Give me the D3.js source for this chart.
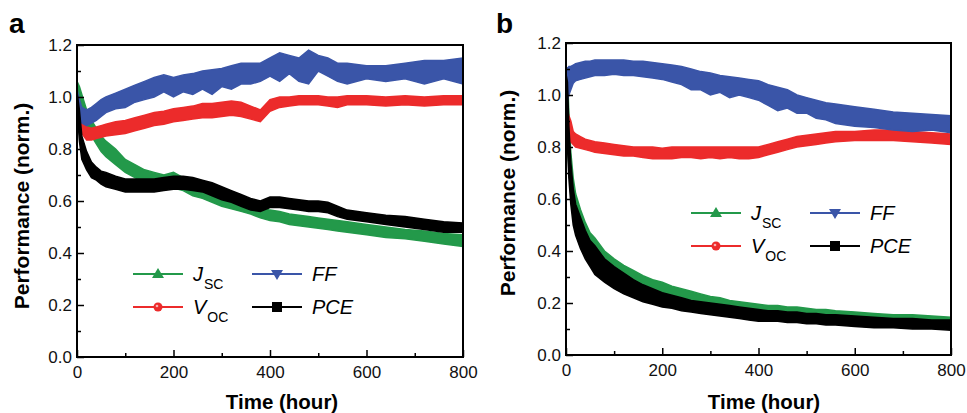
<!DOCTYPE html>
<html>
<head>
<meta charset="utf-8">
<script src="https://cdn.jsdelivr.net/npm/d3@7"></script>
<style>
  body { margin: 0; background: #fff; }
  svg { font-family: "Liberation Sans", Arial, sans-serif; }
  .tick text { font-size: 17px; fill: #111; }
  .tick line { stroke: #000; stroke-width: 1.5; }
</style>
</head>
<body>
<div id="chart"></div>
<script>
// time grids (hours)
var timeA = [0, 5, 10, 20, 30, 40, 50, 60, 80, 100, 120, 140, 160, 180, 200, 220, 240, 260, 280, 300,
    320, 340, 360, 380, 400, 420, 440, 460, 480, 500, 520, 540, 560, 600, 640, 680, 720, 760, 800];
var timeB = [0, 3, 6, 10, 15, 20, 30, 40, 50, 60, 80, 100, 120, 140, 160, 180, 200, 220, 240, 260, 280,
    300, 320, 340, 360, 380, 400, 420, 440, 460, 480, 500, 520, 540, 560, 600, 640, 680, 720, 760, 800];

// panel a, lower / upper edge of each scatter band
var jscA_lo = [1.03, 1.00, 0.96, 0.89, 0.85, 0.82, 0.79, 0.77, 0.74, 0.71, 0.69, 0.67, 0.66, 0.65, 0.65, 0.64, 0.62, 0.61, 0.595, 0.58,
    0.57, 0.56, 0.55, 0.535, 0.525, 0.52, 0.51, 0.505, 0.50, 0.495, 0.49, 0.485, 0.48, 0.47, 0.46, 0.455, 0.445, 0.435, 0.425];
var jscA_hi = [1.06, 1.04, 1.01, 0.95, 0.91, 0.88, 0.85, 0.83, 0.80, 0.76, 0.74, 0.72, 0.71, 0.70, 0.71, 0.69, 0.67, 0.655, 0.64, 0.625,
    0.61, 0.60, 0.59, 0.575, 0.565, 0.56, 0.55, 0.545, 0.54, 0.535, 0.53, 0.525, 0.52, 0.51, 0.50, 0.49, 0.485, 0.475, 0.47];
var vocA_lo = [0.97, 0.90, 0.86, 0.835, 0.835, 0.84, 0.845, 0.85, 0.855, 0.86, 0.87, 0.88, 0.89, 0.895, 0.905, 0.91, 0.915, 0.92, 0.92, 0.925,
    0.93, 0.925, 0.915, 0.905, 0.945, 0.96, 0.965, 0.97, 0.97, 0.97, 0.965, 0.96, 0.97, 0.97, 0.965, 0.97, 0.965, 0.97, 0.97];
var vocA_hi = [1.01, 0.96, 0.91, 0.885, 0.88, 0.885, 0.89, 0.895, 0.905, 0.91, 0.92, 0.93, 0.94, 0.945, 0.955, 0.96, 0.965, 0.975, 0.975, 0.98,
    0.985, 0.98, 0.965, 0.95, 0.99, 1.0, 1.0, 1.005, 1.005, 1.005, 1.0, 1.0, 1.005, 1.005, 1.0, 1.005, 1.0, 1.005, 1.005];
var ffA_lo = [0.97, 0.92, 0.90, 0.89, 0.90, 0.91, 0.925, 0.94, 0.955, 0.96, 0.98, 0.99, 1.0, 1.02, 1.0, 1.02, 1.01, 1.03, 1.01, 1.04,
    1.03, 1.05, 1.05, 1.06, 1.08, 1.06, 1.09, 1.06, 1.05, 1.10, 1.08, 1.06, 1.05, 1.07, 1.06, 1.07, 1.05, 1.07, 1.05];
var ffA_hi = [1.03, 0.99, 0.96, 0.95, 0.96, 0.975, 0.99, 1.0, 1.015, 1.03, 1.045, 1.06, 1.075, 1.085, 1.075, 1.085, 1.09, 1.10, 1.105, 1.11,
    1.12, 1.13, 1.13, 1.13, 1.15, 1.17, 1.16, 1.15, 1.18, 1.16, 1.15, 1.13, 1.13, 1.12, 1.12, 1.13, 1.14, 1.14, 1.15];
var pceA_lo = [0.96, 0.83, 0.76, 0.72, 0.69, 0.68, 0.665, 0.655, 0.645, 0.635, 0.635, 0.635, 0.635, 0.64, 0.645, 0.645, 0.64, 0.635, 0.62, 0.605,
    0.595, 0.58, 0.565, 0.56, 0.575, 0.575, 0.57, 0.565, 0.56, 0.56, 0.555, 0.54, 0.53, 0.52, 0.51, 0.50, 0.49, 0.48, 0.48];
var pceA_hi = [1.02, 0.95, 0.85, 0.79, 0.75, 0.73, 0.715, 0.71, 0.695, 0.685, 0.685, 0.685, 0.685, 0.69, 0.695, 0.695, 0.69, 0.68, 0.67, 0.655,
    0.64, 0.625, 0.61, 0.60, 0.615, 0.615, 0.61, 0.605, 0.60, 0.60, 0.595, 0.58, 0.565, 0.555, 0.545, 0.54, 0.53, 0.52, 0.515];

// panel b
var jscB_lo = [1.06, 0.85, 0.72, 0.62, 0.54, 0.50, 0.44, 0.40, 0.37, 0.34, 0.31, 0.28, 0.26, 0.245, 0.23, 0.22, 0.21, 0.20, 0.195, 0.19, 0.18,
    0.175, 0.17, 0.165, 0.16, 0.155, 0.15, 0.15, 0.145, 0.14, 0.14, 0.135, 0.135, 0.13, 0.13, 0.125, 0.12, 0.115, 0.11, 0.105, 0.10];
var jscB_hi = [1.11, 1.10, 0.92, 0.78, 0.68, 0.62, 0.56, 0.51, 0.47, 0.45, 0.40, 0.37, 0.345, 0.325, 0.305, 0.29, 0.28, 0.265, 0.255, 0.245, 0.235,
    0.225, 0.22, 0.21, 0.205, 0.20, 0.195, 0.19, 0.19, 0.185, 0.185, 0.18, 0.175, 0.175, 0.17, 0.165, 0.16, 0.155, 0.155, 0.15, 0.145];
var vocB_lo = [0.88, 0.84, 0.83, 0.82, 0.81, 0.80, 0.795, 0.79, 0.785, 0.78, 0.775, 0.77, 0.765, 0.765, 0.76, 0.755, 0.755, 0.755, 0.76, 0.76, 0.755,
    0.76, 0.755, 0.76, 0.755, 0.755, 0.76, 0.77, 0.78, 0.79, 0.80, 0.805, 0.81, 0.815, 0.82, 0.825, 0.825, 0.825, 0.82, 0.815, 0.81];
var vocB_hi = [0.95, 0.94, 0.92, 0.90, 0.86, 0.85, 0.84, 0.83, 0.825, 0.82, 0.815, 0.81, 0.805, 0.80, 0.80, 0.80, 0.795, 0.80, 0.80, 0.80, 0.80,
    0.80, 0.80, 0.80, 0.80, 0.80, 0.80, 0.81, 0.82, 0.83, 0.84, 0.845, 0.85, 0.855, 0.86, 0.86, 0.865, 0.865, 0.86, 0.855, 0.85];
var ffB_lo = [1.06, 0.98, 1.00, 1.02, 1.045, 1.055, 1.06, 1.065, 1.07, 1.075, 1.075, 1.08, 1.075, 1.075, 1.07, 1.065, 1.06, 1.05, 1.04, 1.02, 1.02,
    1.00, 1.01, 0.99, 1.00, 0.99, 0.98, 0.96, 0.94, 0.95, 0.93, 0.93, 0.91, 0.905, 0.89, 0.88, 0.875, 0.865, 0.86, 0.865, 0.855];
var ffB_hi = [1.11, 1.10, 1.11, 1.11, 1.115, 1.12, 1.125, 1.13, 1.13, 1.135, 1.135, 1.135, 1.135, 1.13, 1.13, 1.125, 1.12, 1.115, 1.11, 1.10, 1.09,
    1.085, 1.075, 1.07, 1.065, 1.06, 1.055, 1.04, 1.03, 1.02, 1.00, 0.99, 0.98, 0.97, 0.965, 0.955, 0.945, 0.935, 0.93, 0.925, 0.92];
var pceB_lo = [1.03, 0.80, 0.68, 0.58, 0.50, 0.46, 0.41, 0.37, 0.34, 0.31, 0.28, 0.255, 0.235, 0.22, 0.205, 0.195, 0.185, 0.18, 0.17, 0.165, 0.16,
    0.155, 0.15, 0.145, 0.14, 0.135, 0.13, 0.13, 0.13, 0.125, 0.125, 0.12, 0.12, 0.115, 0.115, 0.11, 0.105, 0.105, 0.10, 0.10, 0.095];
var pceB_hi = [1.08, 1.05, 0.88, 0.74, 0.64, 0.58, 0.53, 0.48, 0.44, 0.42, 0.37, 0.34, 0.315, 0.29, 0.27, 0.255, 0.24, 0.23, 0.22, 0.21, 0.205,
    0.20, 0.195, 0.19, 0.185, 0.18, 0.175, 0.17, 0.17, 0.165, 0.165, 0.16, 0.16, 0.155, 0.155, 0.15, 0.145, 0.14, 0.14, 0.135, 0.135];

var xTicks = [0, 200, 400, 600, 800];
var xMinor = [100, 300, 500, 700];
var yTicks = [0, 0.2, 0.4, 0.6, 0.8, 1.0, 1.2];
var yMinor = [0.1, 0.3, 0.5, 0.7, 0.9, 1.1];

var colors = { jsc: "#23994a", voc: "#ec2b2b", ff: "#3a55a8", pce: "#000000" };

var svg = d3.select("#chart").append("svg")
    .attr("width", 967)
    .attr("height", 413);

function drawPanel(p) {
    var x = d3.scaleLinear().domain([0, 800]).range([p.left, p.right]);
    var y = d3.scaleLinear().domain([0, 1.2]).range([p.bottom, p.top]);

    var g = svg.append("g");

    g.append("clipPath").attr("id", "clip" + p.name)
      .append("rect")
        .attr("x", p.left).attr("y", p.top)
        .attr("width", p.right - p.left).attr("height", p.bottom - p.top);

    var plot = g.append("g").attr("clip-path", "url(#clip" + p.name + ")");

    // bands, drawn in legend order so PCE ends on top
    p.series.forEach(function(s) {
        var pts = p.time.map(function(t, i) { return { t: t, lo: s.lo[i], hi: s.hi[i] }; });
        var area = d3.area()
            .x(function(d) { return x(d.t); })
            .y0(function(d) { return y(d.lo); })
            .y1(function(d) { return y(d.hi); });
        plot.append("path")
            .datum(pts)
            .attr("d", area)
            .attr("fill", s.color)
            .attr("stroke", s.color)
            .attr("stroke-width", 1.5)
            .attr("stroke-linejoin", "miter");
    });

    // axes with inward ticks
    var xAxis = g.append("g")
        .attr("transform", "translate(0," + p.bottom + ")")
        .call(d3.axisBottom(x).tickValues(xTicks).tickSize(-7).tickSizeOuter(0).tickPadding(5)
            .tickFormat(d3.format("d")));
    xAxis.select(".domain").remove();
    xAxis.selectAll("text").attr("dy", "0.95em");

    var xMinorAxis = g.append("g")
        .attr("transform", "translate(0," + p.bottom + ")")
        .call(d3.axisBottom(x).tickValues(xMinor).tickSize(-4).tickSizeOuter(0).tickFormat(""));
    xMinorAxis.select(".domain").remove();

    var yAxis = g.append("g")
        .attr("transform", "translate(" + p.left + ",0)")
        .call(d3.axisLeft(y).tickValues(yTicks).tickSize(-7).tickSizeOuter(0).tickPadding(5)
            .tickFormat(d3.format(".1f")));
    yAxis.select(".domain").remove();

    var yMinorAxis = g.append("g")
        .attr("transform", "translate(" + p.left + ",0)")
        .call(d3.axisLeft(y).tickValues(yMinor).tickSize(-4).tickSizeOuter(0).tickFormat(""));
    yMinorAxis.select(".domain").remove();

    g.append("rect")
        .attr("x", p.left).attr("y", p.top)
        .attr("width", p.right - p.left).attr("height", p.bottom - p.top)
        .attr("fill", "none")
        .attr("stroke", "#000")
        .attr("stroke-width", 2);

    // titles
    g.append("text")
        .attr("x", p.letterX).attr("y", 33)
        .attr("font-size", 28).attr("font-weight", "bold")
        .text(p.name);

    g.append("text")
        .attr("transform", "translate(" + p.yTitleX + "," + p.yTitleY + ") rotate(-90)")
        .attr("text-anchor", "middle")
        .attr("font-size", 21).attr("font-weight", "bold")
        .text("Performance (norm.)");

    g.append("text")
        .attr("x", p.xTitleX).attr("y", 409)
        .attr("text-anchor", "middle")
        .attr("font-size", 20.5).attr("font-weight", "bold")
        .text("Time (hour)");

    // legend
    var items = [
        { key: "jsc", main: "J", sub: "SC", col: 0, row: 0, shape: "up" },
        { key: "ff", main: "FF", sub: "", col: 1, row: 0, shape: "down" },
        { key: "voc", main: "V", sub: "OC", col: 0, row: 1, shape: "circle" },
        { key: "pce", main: "PCE", sub: "", col: 1, row: 1, shape: "square" }
    ];
    items.forEach(function(it) {
        var lx = p.legX + it.col * 119;
        var ly = p.legY + it.row * 33;
        var c = colors[it.key];
        var lg = g.append("g");
        lg.append("line")
            .attr("x1", lx).attr("x2", lx + 50)
            .attr("y1", ly).attr("y2", ly)
            .attr("stroke", c).attr("stroke-width", 2);
        var cx = lx + 25;
        if (it.shape === "up") {
            lg.append("path").attr("d", "M" + cx + "," + (ly - 6) + "L" + (cx + 6) + "," + (ly + 4) + "L" + (cx - 6) + "," + (ly + 4) + "Z").attr("fill", c);
        } else if (it.shape === "down") {
            lg.append("path").attr("d", "M" + cx + "," + (ly + 6) + "L" + (cx + 6) + "," + (ly - 4) + "L" + (cx - 6) + "," + (ly - 4) + "Z").attr("fill", c);
        } else if (it.shape === "circle") {
            lg.append("circle").attr("cx", cx).attr("cy", ly).attr("r", 4.5).attr("fill", c);
            lg.append("circle").attr("cx", cx - 1).attr("cy", ly - 1).attr("r", 1.3).attr("fill", "#f8b0b0");
        } else {
            lg.append("rect").attr("x", cx - 5).attr("y", ly - 5).attr("width", 10).attr("height", 10).attr("fill", c);
        }
        var t = lg.append("text")
            .attr("x", lx + 60).attr("y", ly + 7)
            .attr("font-size", 20);
        t.append("tspan").attr("font-style", "italic").text(it.main);
        if (it.sub) {
            t.append("tspan").attr("font-size", 14).attr("dy", 8).attr("dx", 1).text(it.sub);
        }
    });
}

drawPanel({
    name: "a", left: 77, right: 463, top: 45, bottom: 357,
    letterX: 9, yTitleX: 29, yTitleY: 206, xTitleX: 282,
    legX: 133, legY: 274,
    time: timeA,
    series: [
        { lo: jscA_lo, hi: jscA_hi, color: colors.jsc },
        { lo: vocA_lo, hi: vocA_hi, color: colors.voc },
        { lo: ffA_lo, hi: ffA_hi, color: colors.ff },
        { lo: pceA_lo, hi: pceA_hi, color: colors.pce }
    ]
});

drawPanel({
    name: "b", left: 566, right: 951, top: 43, bottom: 355,
    letterX: 496, yTitleX: 515, yTitleY: 193, xTitleX: 764,
    legX: 691, legY: 213,
    time: timeB,
    series: [
        { lo: jscB_lo, hi: jscB_hi, color: colors.jsc },
        { lo: vocB_lo, hi: vocB_hi, color: colors.voc },
        { lo: ffB_lo, hi: ffB_hi, color: colors.ff },
        { lo: pceB_lo, hi: pceB_hi, color: colors.pce }
    ]
});
</script>
</body>
</html>
